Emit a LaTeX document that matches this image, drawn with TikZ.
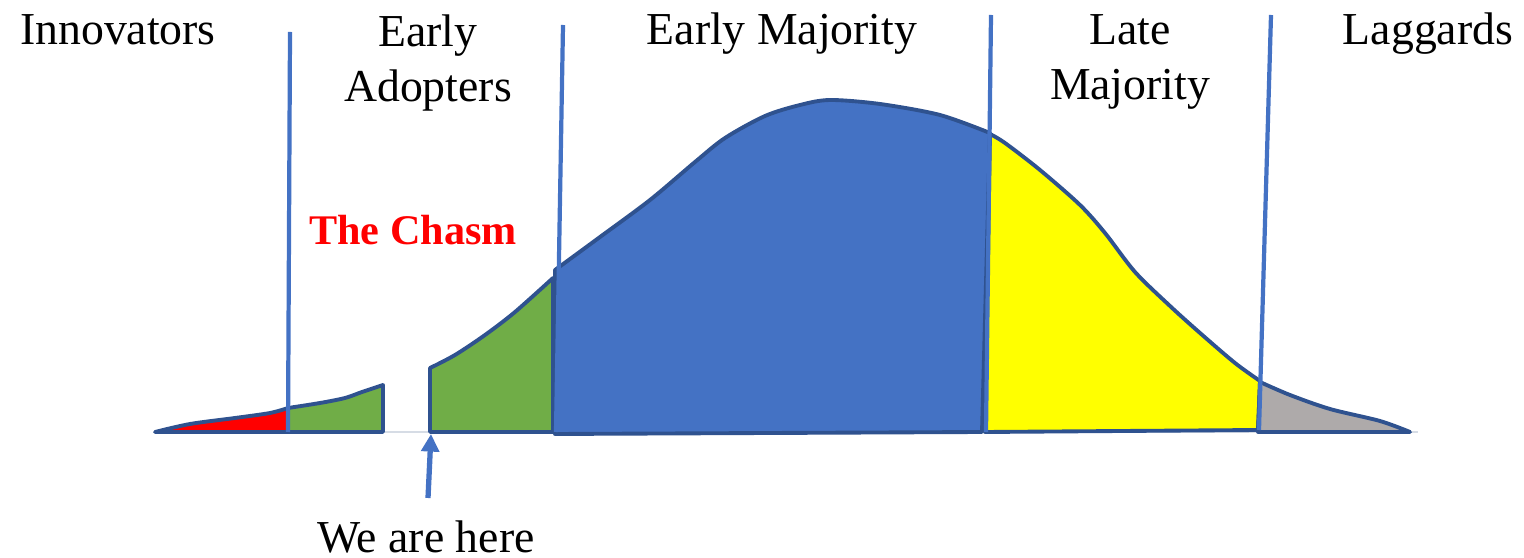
\documentclass[tikz,border=0pt]{standalone}
\usepackage{fontspec}
\setmainfont{Liberation Serif}
\usetikzlibrary{arrows.meta}
\definecolor{fillblue}{HTML}{4472C4}
\definecolor{edgeblue}{HTML}{2F528F}
\definecolor{fillgreen}{HTML}{70AD47}
\definecolor{fillgrey}{HTML}{AEAAAA}
\definecolor{fillyellow}{HTML}{FFFF00}
\definecolor{fillred}{HTML}{FF0000}
\definecolor{baseln}{HTML}{D6DCE5}
\tikzset{
  area/.style={draw=edgeblue, line width=1.1pt, line join=round},
  divider/.style={draw=fillblue, line width=1.2pt},
  lbl/.style={inner sep=0pt, font=\fontsize{13}{15.6}\selectfont, text=black},
  lbltwo/.style={lbl, align=center, anchor=north},
}
\begin{document}
\begin{tikzpicture}[x=0.01cm, y=-0.01cm]
\useasboundingbox (0,0) rectangle (1524,558);
% base line
\draw[baseln, line width=0.6pt] (155,432) -- (1418,432);
% areas
\filldraw[area, fill=fillred] plot[smooth, tension=0.5] coordinates {(155,432) (190,424) (235,418) (270,413) (288,408)} -- (288,432) -- cycle;
\filldraw[area, fill=fillgreen] (288,432) -- plot[smooth, tension=0.5] coordinates {(288,408) (320,403) (345,398) (362,392) (383,385)} -- (383,432) -- cycle;
\filldraw[area, fill=fillgreen] (430,432) -- plot[smooth, tension=0.5] coordinates {(430,368) (455,355) (485,335) (515,312) (553,278)} -- (553,432) -- cycle;
\filldraw[area, fill=fillblue] (555,434) -- plot[smooth, tension=0.5] coordinates {(555,270) (600,237) (650,200) (695,162) (725,138) (765,116) (800,105) (830,100) (880,104) (940,115) (990,133)} -- (982,432) -- cycle;
\filldraw[area, fill=fillyellow] (985,432) -- plot[smooth, tension=0.5] coordinates {(990,134) (1005,143) (1040,170) (1080,205) (1105,233) (1135,272) (1170,306) (1200,333) (1235,363) (1260,381)} -- (1258,430) -- cycle;
\filldraw[area, fill=fillgrey] (1258,432) -- plot[smooth, tension=0.5] coordinates {(1260,382) (1290,395) (1330,409) (1380,421) (1410,432)} -- cycle;
% dividers
\draw[divider] (290,32) -- (288,432);
\draw[divider] (563,25) -- (556,432);
\draw[divider] (991,15) -- (986,432);
\draw[divider] (1271,15) -- (1259,430);
% labels
\node[lbl, anchor=base] (innov) at (118,45) {Innovators};
\node[lbltwo] (early) at (428,14) {Early\\Adopters};
\node[lbl, anchor=base] (emaj) at (782,45) {Early Majority};
\node[lbltwo] (late) at (1130,14) {Late\\Majority};
\node[lbl, anchor=base] (lag) at (1428,45) {Laggards};
\node[lbl, anchor=base, font=\fontsize{12}{14}\selectfont\bfseries, text=fillred] (chasm) at (413,245) {The Chasm};
\node[lbl, anchor=base] (here) at (426,552) {We are here};
% arrow
\coordinate (tail) at (428,498);
\coordinate (tip) at (431,434);
\draw[fillblue, line width=1.5pt, -{Triangle[width=5pt,length=5pt]}] (tail) -- (tip);
\end{tikzpicture}
\end{document}
